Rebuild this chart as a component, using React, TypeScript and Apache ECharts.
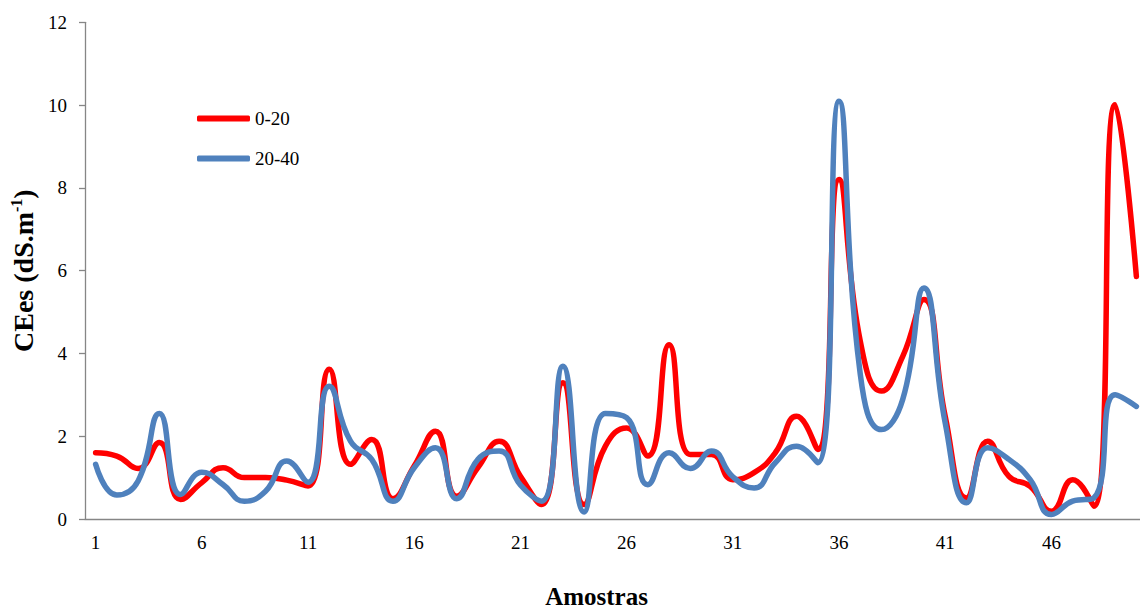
import React, { useEffect, useRef } from "react";
import * as echarts from "echarts";

const categories: string[] = Array.from({ length: 50 }, (_, i) => String(i + 1));

const series0to20: number[] = [
  1.6, 1.52, 1.22, 1.85, 0.47, 0.88, 1.24, 1.0, 1.0, 0.94,
  0.8, 3.62, 1.32, 1.92, 0.49, 1.28, 2.12, 0.55, 1.24, 1.88,
  1.03, 0.35, 3.29, 0.35, 1.76, 2.2, 1.52, 4.21, 1.56, 1.56,
  0.95, 1.12, 1.6, 2.48, 1.68, 8.2, 4.3, 3.09, 3.93, 5.3,
  2.48, 0.51, 1.88, 1.03, 0.79, 0.19, 0.95, 0.31, 10.01, 5.86,
];

const series20to40: number[] = [
  1.32, 0.58, 0.92, 2.55, 0.59, 1.13, 0.83, 0.43, 0.67, 1.4,
  0.89, 3.21, 1.88, 1.44, 0.43, 1.24, 1.72, 0.49, 1.44, 1.64,
  0.82, 0.43, 3.69, 0.17, 2.55, 2.45, 0.83, 1.6, 1.22, 1.64,
  1.02, 0.75, 1.36, 1.76, 1.36, 10.09, 3.5, 2.16, 2.89, 5.58,
  2.32, 0.39, 1.72, 1.44, 0.95, 0.11, 0.43, 0.51, 3.0, 2.72,
];

const seriesNames: string[] = ["0-20", "20-40"];
const FONT = "'Liberation Serif', 'Times New Roman', serif";

export default function App() {
  const ref = useRef<HTMLDivElement>(null);

  useEffect(() => {
    document.body.style.margin = "0";
    if (!ref.current) return;
    const chart = echarts.init(ref.current, null, { renderer: "svg" });
    const axisColor = "#868686";
    chart.setOption({
      animation: false,
      backgroundColor: "#ffffff",
      textStyle: { fontFamily: FONT },
      grid: {
        left: 85,
        top: 22.3,
        width: 1062,
        bottom: 89,
        containLabel: false,
        outerBoundsMode: "none",
      },
      legend: {
        orient: "vertical",
        left: 197,
        top: 109,
        padding: 0,
        itemWidth: 53,
        itemHeight: 6,
        itemGap: 21,
        icon: "roundRect",
        data: seriesNames,
        textStyle: { fontFamily: FONT, fontSize: 19, color: "#000" },
      },
      xAxis: {
        type: "category",
        data: categories,
        boundaryGap: true,
        axisLine: { lineStyle: { color: axisColor, width: 1.3 } },
        axisTick: { interval: 4, length: 6, lineStyle: { color: axisColor, width: 1.3 } },
        axisLabel: { interval: 4, margin: 14, fontFamily: FONT, fontSize: 19, color: "#000" },
        splitLine: { show: false },
      },
      yAxis: {
        type: "value",
        min: 0,
        max: 12,
        interval: 2,
        name: "{b|CEes (dS.m}{s|-1}{b|)}",
        nameLocation: "middle",
        nameGap: 46,
        nameRotate: 90,
        nameTextStyle: {
          rich: {
            b: { fontFamily: FONT, fontWeight: "bold", fontSize: 28, lineHeight: 30, color: "#000" },
            s: { fontFamily: FONT, fontWeight: "bold", fontSize: 16, lineHeight: 16, verticalAlign: "top", color: "#000" },
          },
        },
        axisLine: { show: true, lineStyle: { color: axisColor, width: 1.3 } },
        axisTick: { show: true, length: 6, lineStyle: { color: axisColor, width: 1.3 } },
        axisLabel: { margin: 18, fontFamily: FONT, fontSize: 19, color: "#000" },
        splitLine: { show: false },
      },
      graphic: [
        {
          type: "text",
          x: 596.5,
          y: 596,
          style: {
            text: "Amostras",
            fontFamily: FONT,
            fontWeight: "bold",
            fontSize: 25,
            fill: "#000",
            align: "center",
            verticalAlign: "middle",
          },
        },
      ],
      series: [
        {
          name: seriesNames[0],
          type: "line",
          data: series0to20,
          smooth: 0.5,
          showSymbol: false,
          symbol: "none",
          lineStyle: { color: "#FF0000", width: 5.5, cap: "round", join: "round" },
          itemStyle: { color: "#FF0000" },
        },
        {
          name: seriesNames[1],
          type: "line",
          data: series20to40,
          smooth: 0.5,
          showSymbol: false,
          symbol: "none",
          lineStyle: { color: "#4F81BD", width: 5.5, cap: "round", join: "round" },
          itemStyle: { color: "#4F81BD" },
        },
      ],
    });
    return () => chart.dispose();
  }, []);

  return <div ref={ref} style={{ width: 1140, height: 608 }} />;
}
